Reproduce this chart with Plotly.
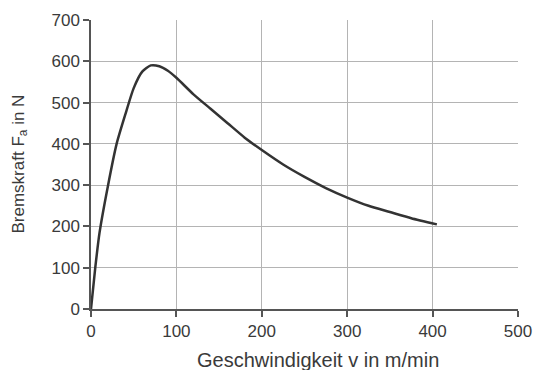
import plotly.graph_objects as go

speed = [0, 5, 10, 20, 30, 40, 50, 60, 70, 80, 90, 100, 120, 140, 160, 180, 200,
         225, 250, 275, 300, 325, 350, 375, 405]
force = [0, 100, 185, 300, 400, 470, 535, 575, 590, 588, 577, 560, 520, 485, 450,
         415, 385, 350, 320, 293, 270, 250, 235, 220, 205]

x_ticks = [0, 100, 200, 300, 400, 500]
y_ticks = [0, 100, 200, 300, 400, 500, 600, 700]
x_title = "Geschwindigkeit v in m/min"
y_title = "Bremskraft F<sub>a</sub> in N"

fam = "Liberation Sans, Arial, sans-serif"
txt = "#3a3a3a"

fig = go.Figure()
fig.add_trace(go.Scatter(x=speed, y=force, mode="lines",
                         line=dict(color="#333333", width=2.5, shape="spline", smoothing=0.6),
                         showlegend=False, hoverinfo="skip"))

axis_common = dict(showgrid=True, gridcolor="#b4b4b4", gridwidth=1,
                   showline=True, linecolor="#555555", linewidth=1.5,
                   ticks="outside", ticklen=6, tickcolor="#555555", tickwidth=1.5,
                   zeroline=False, automargin=False,
                   tickfont=dict(family=fam, size=17, color=txt))

fig.update_layout(
    width=537, height=370,
    margin=dict(l=91, r=19, t=20, b=61),
    paper_bgcolor="white", plot_bgcolor="white",
    xaxis=dict(range=[0, 500], tickvals=x_ticks, **axis_common),
    yaxis=dict(range=[0, 700], tickvals=y_ticks, **axis_common),
    annotations=[
        dict(text=x_title, xref="paper", yref="paper", x=(317.5 - 91) / 427, y=-(360 - 309) / 289,
             xanchor="center", yanchor="middle", showarrow=False,
             font=dict(family=fam, size=20, color=txt)),
        dict(text=y_title, xref="paper", yref="paper", x=-(91 - 19) / 427, y=0.5,
             xanchor="center", yanchor="middle", showarrow=False, textangle=-90,
             font=dict(family=fam, size=17, color=txt)),
    ],
)
fig.write_html("out.html", config={"displayModeBar": False},
               post_script="document.body.style.margin='0';document.body.style.overflow='hidden';")
